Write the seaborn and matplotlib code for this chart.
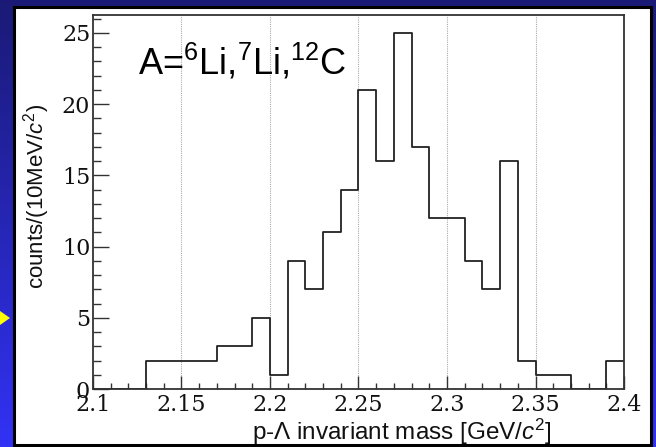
import numpy as np
import pandas as pd
import matplotlib
matplotlib.use("Agg")
import matplotlib.pyplot as plt
from matplotlib.patches import Rectangle, Polygon
import seaborn as sns

# ---- data ----
bin_edges = [round(2.10 + 0.01 * i, 2) for i in range(31)]
counts = [0, 0, 0, 2, 2, 2, 2, 3, 3, 5,
          1, 9, 7, 11, 14, 21, 16, 25, 17, 12,
          12, 9, 7, 16, 2, 1, 1, 0, 0, 2]
xticks = [2.1, 2.15, 2.2, 2.25, 2.3, 2.35, 2.4]
xtick_labels = ["2.1", "2.15", "2.2", "2.25", "2.3", "2.35", "2.4"]
yticks = [0, 5, 10, 15, 20, 25]
ytick_labels = ["0", "5", "10", "15", "20", "25"]
annotation = r"A=$^{6}$Li,$^{7}$Li,$^{12}$C"
xlabel = r"p-$\Lambda$ invariant mass [GeV/$c^{2}$]"
ylabel = r"counts/(10MeV/$c^{2}$)"

centers = [(bin_edges[i] + bin_edges[i + 1]) / 2 for i in range(len(counts))]
df = pd.DataFrame({"mass": centers, "counts": counts})

sns.set_theme(style="white")
plt.rcParams["font.family"] = ["Liberation Sans", "DejaVu Sans"]
plt.rcParams["mathtext.fontset"] = "custom"
plt.rcParams["mathtext.rm"] = "Liberation Sans"
plt.rcParams["mathtext.it"] = "Liberation Sans:italic"
plt.rcParams["mathtext.sf"] = "Liberation Sans"

W, H = 656, 447
fig = plt.figure(figsize=(W / 100, H / 100), dpi=100)

# background gradient
bg = fig.add_axes([0, 0, 1, 1])
top = np.array([26, 26, 118]) / 255
bot = np.array([50, 50, 245]) / 255
t = np.linspace(0, 1, 256)[:, None]
grad = top[None, :] * (1 - t) + bot[None, :] * t
bg.imshow(grad[:, None, :], aspect="auto", extent=[0, 1, 0, 1])
bg.set_xlim(0, 1)
bg.set_ylim(0, 1)
bg.axis("off")

# white panel with black border
bg.add_patch(Rectangle((14 / W, 1 - 445 / H), (651 - 14) / W, (445 - 7) / H,
                       facecolor="white", edgecolor="black", linewidth=2.2,
                       transform=bg.transAxes, zorder=2))
# small yellow arrow on the left
bg.add_patch(Polygon([[0 / W, 1 - 311 / H], [10 / W, 1 - 318 / H], [0 / W, 1 - 325 / H]],
                     closed=True, facecolor="#ffff00", edgecolor="none",
                     transform=bg.transAxes, zorder=3))

# main axes
L, R, T, B = 93, 624, 15, 389
ax = fig.add_axes([L / W, 1 - B / H, (R - L) / W, (B - T) / H])
ax.set_facecolor("white")

sns.histplot(data=df, x="mass", weights="counts", bins=bin_edges,
             element="step", fill=False, color="#222222", linewidth=1.3, ax=ax)

ax.set_xlim(2.1, 2.4)
ax.set_ylim(0, 26.25)

for xv in [2.15, 2.2, 2.25, 2.3, 2.35]:
    ax.axvline(xv, color="#aaaaaa", linestyle=(0, (1, 1)), linewidth=0.8, zorder=0)

ax.set_xticks(xticks)
ax.set_xticklabels(xtick_labels, family="DejaVu Serif", fontsize=16, color="#111111")
ax.set_yticks(yticks)
ax.set_yticklabels(ytick_labels, family="DejaVu Serif", fontsize=16, color="#111111")
ax.set_xticks([round(2.1 + 0.01 * i, 2) for i in range(31)], minor=True)
ax.set_yticks(list(range(27)), minor=True)

ax.tick_params(axis="x", which="major", direction="in", length=9.5, width=1, color="#333333", pad=3.5)
ax.tick_params(axis="x", which="minor", direction="in", length=4.5, width=1, color="#333333")
ax.tick_params(axis="y", which="major", direction="in", length=11.5, width=1, color="#333333", pad=2)
ax.tick_params(axis="y", which="minor", direction="in", length=5.8, width=1, color="#333333")
ax.tick_params(bottom=True, left=True, top=False, right=False, which="both")

for sp in ax.spines.values():
    sp.set_visible(True)
    sp.set_color("#333333")
    sp.set_linewidth(1.3)

ax.set_xlabel(xlabel, fontsize=17.5, color="#111111")
ax.xaxis.set_label_coords(0.582, -0.074, transform=ax.transAxes)
ax.xaxis.label.set_va("top")
ax.set_ylabel(ylabel, fontsize=16, color="#111111")
ax.yaxis.set_label_coords(-0.077, 0.515)

ax.text(0.085, 0.84, annotation, transform=ax.transAxes, fontsize=26,
        color="black", ha="left", va="baseline")

fig.savefig("out.png", dpi=100)
